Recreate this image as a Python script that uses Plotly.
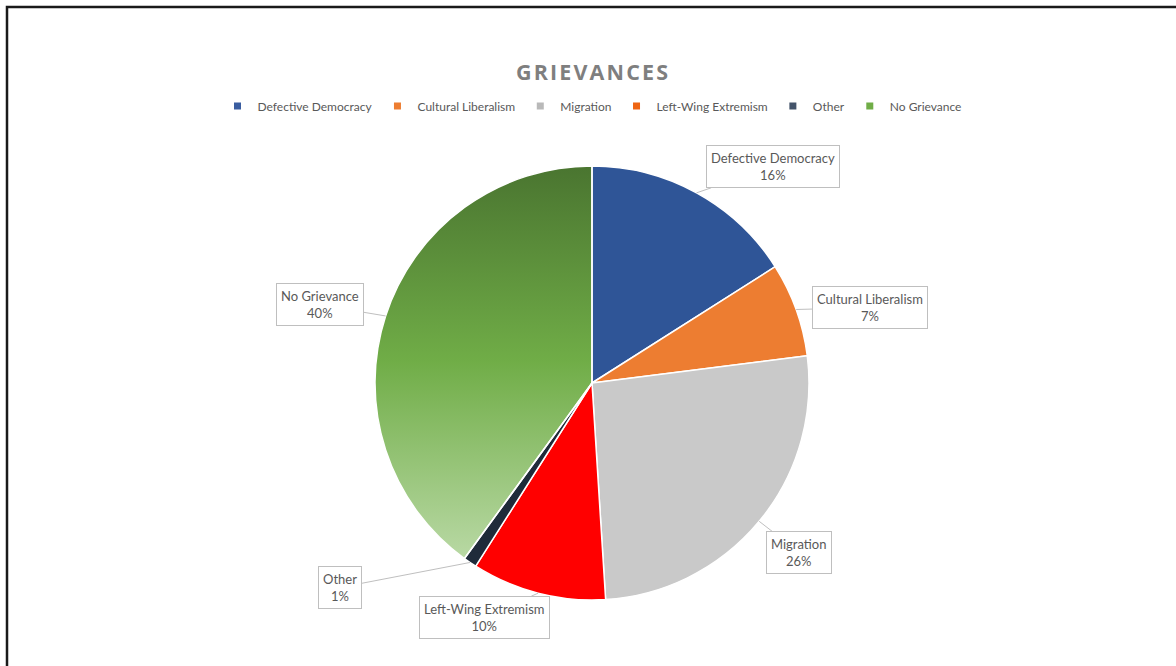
import math
import plotly.graph_objects as go

# Grievance shares (percent)
categories = ["Defective Democracy", "Cultural Liberalism", "Migration",
              "Left-Wing Extremism", "Other", "No Grievance"]
shares = [16, 7, 26, 10, 1, 40]

# Colours for slices and for legend swatches (the last slice gets a gradient fill)
slice_colors = ["#2F5597", "#ED7D31", "#C9C9C9", "#FF0000", "#1F2B3A", "rgba(0,0,0,0)"]
legend_colors = ["#3A5DA0", "#ED7D31", "#B9B9B9", "#EE6412", "#44546A", "#70AD47"]
gradient_stops = [[0.0, "#4A7530"], [0.45, "#70AD47"], [1.0, "#C8E2B8"]]

W, H = 1176, 666
# Pie geometry in pixels
CX, CY, R = 592, 383, 217

# Offsets (px) from each slice's rim point to its label box centre
label_offsets = [(76, -26), (74, -2), (40, 31), (-54, 24), (-130, 25), (-66, -11)]

TEXT_GREY = "#595959"
FONT = "Lato"

total = sum(shares)

fig = go.Figure()

# Gradient fill behind the last slice, traced from its start/end fractions
start_frac = sum(shares[:-1]) / total
end_frac = 1.0
steps = 240
gx, gy = [CX], [CY]
for i in range(steps + 1):
    t = 2 * math.pi * (start_frac + (end_frac - start_frac) * i / steps)
    gx.append(CX + R * math.sin(t))
    gy.append(CY - R * math.cos(t))
gx.append(CX)
gy.append(CY)
fig.add_trace(go.Scatter(
    x=gx, y=gy, mode="lines", fill="toself",
    line=dict(width=0, color="rgba(0,0,0,0)"),
    fillgradient=dict(type="vertical", colorscale=gradient_stops,
                      start=CY - R, stop=CY + R),
    hoverinfo="skip", showlegend=False,
))

fig.add_trace(go.Pie(
    labels=categories,
    values=shares,
    sort=False,
    direction="clockwise",
    rotation=0,
    marker=dict(colors=slice_colors, line=dict(color="white", width=1.5)),
    textinfo="none",
    hoverinfo="label+percent",
    showlegend=False,
    domain=dict(x=[(CX - R) / W, (CX + R) / W],
                y=[1 - (CY + R) / H, 1 - (CY - R) / H]),
))

# Legend entries with small square swatches
for name, col in zip(categories, legend_colors):
    fig.add_trace(go.Scatter(
        x=[None], y=[None], mode="markers", name=name,
        marker=dict(symbol="square", size=7, color=col),
        hoverinfo="skip",
    ))

# Boxed callout labels pointing at each slice's mid-angle on the rim
cum = 0
annotations = []
for name, v, (ox, oy) in zip(categories, shares, label_offsets):
    mid = (cum + v / 2) / total
    cum += v
    theta = 2 * math.pi * mid
    px = CX + R * math.sin(theta)
    py = CY - R * math.cos(theta)
    annotations.append(dict(
        x=px / W, y=1 - py / H, xref="paper", yref="paper",
        text=f"{name}<br>{v / total * 100:.0f}%",
        showarrow=True, arrowhead=0, arrowwidth=1, arrowcolor="#BFBFBF",
        ax=ox, ay=oy, standoff=0, startstandoff=0,
        bordercolor="#BFBFBF", borderwidth=1, borderpad=4,
        bgcolor="white", align="center",
        font=dict(family=FONT, size=13, color=TEXT_GREY),
    ))

title_text = "\u200a".join("GRIEVANCES")

fig.update_layout(
    width=W, height=H,
    margin=dict(l=0, r=0, t=0, b=0),
    paper_bgcolor="white", plot_bgcolor="white",
    title=dict(text=f"<b>{title_text}</b>", x=CX / W, xanchor="center",
               y=1 - 72 / H, yanchor="middle",
               font=dict(family="Open Sans", size=21.5, color="#7F7F7F")),
    legend=dict(orientation="h", x=CX / W, xanchor="center",
                y=1 - 106 / H, yanchor="middle",
                font=dict(family=FONT, size=12, color=TEXT_GREY),
                itemwidth=30, tracegroupgap=0, bgcolor="rgba(0,0,0,0)"),
    xaxis=dict(visible=False, range=[0, W], domain=[0, 1], fixedrange=True),
    yaxis=dict(visible=False, range=[H, 0], domain=[0, 1], fixedrange=True),
    annotations=annotations,
    shapes=[dict(type="rect", xref="paper", yref="paper",
                 x0=7 / W, x1=1.2, y0=-0.2, y1=1 - 7 / H,
                 line=dict(color="#1A1A1A", width=2.5))],
)

fig.write_html("out.html")
